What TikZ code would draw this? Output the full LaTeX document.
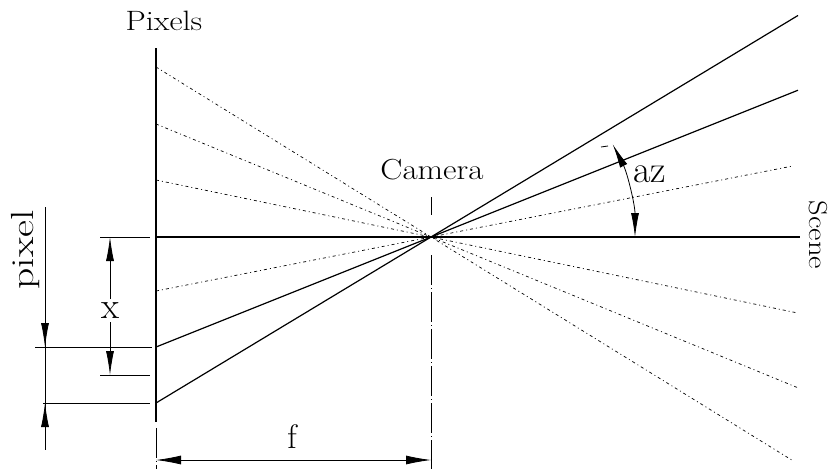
\documentclass[tikz,border=0pt]{standalone}
\usepackage{fontspec}
\usetikzlibrary{arrows.meta,calc}
\begin{document}
\begin{tikzpicture}[x=1pt,y=-1pt,
  ray/.style={line width=1.2pt},
  dray/.style={line width=0.7pt, dash pattern=on 3pt off 3pt on 1pt off 3pt},
  ext/.style={line width=1pt},
  dim/.style={line width=0.8pt},
  cline/.style={line width=0.9pt, dash pattern=on 30pt off 3pt on 1pt off 3pt},
  tip/.style={-{Latex[length=24pt,width=8pt]}},
  lbl/.style={inner sep=0pt}
]
\useasboundingbox (0,0) rectangle (830,469);
% key points
\coordinate (C) at (431,237);
\coordinate (planeT) at (156,48);
\coordinate (planeB) at (156,422);
\coordinate (d1) at (156,67);
\coordinate (d2) at (156,124);
\coordinate (d3) at (156,180);
\coordinate (d4) at (156,291);
\coordinate (s1) at (156,347);
\coordinate (s2) at (156,403);
\coordinate (axL) at (157,237);
\coordinate (axR) at (800,237);

% pixel plane
\draw[ray] (planeT) -- (planeB);
% optical axis
\draw[ray] (axL) -- (axR);
% dotted rays
\draw[dray] (d1) -- ($(d1)!2.3127!(C)$);
\draw[dray] (d2) -- ($(d2)!2.3345!(C)$);
\draw[dray] (d3) -- ($(d3)!2.3345!(C)$);
\draw[dray] (d4) -- ($(d4)!2.3127!(C)$);
% solid rays
\draw[ray] (s1) -- ($(s1)!2.3345!(C)$);
\draw[ray] (s2) -- ($(s2)!2.3345!(C)$);

% camera centre line
\coordinate (cT) at (431,197);
\coordinate (cT2) at (431,215);
\coordinate (cB1) at (431,255);
\coordinate (cB2) at (431,469);
\draw[ext] (cT) -- (cT2);
\draw[cline] (cB1) -- (cB2);
% left extension for f
\coordinate (fe1) at (156,428);
\coordinate (fe2) at (156,469);
\draw[cline] (fe1) -- (fe2);

% extension lines on the left
\coordinate (e0a) at (100,237); \coordinate (e0b) at (150,237);
\coordinate (e1a) at (35,347);  \coordinate (e1b) at (152,347);
\coordinate (e2a) at (100,375); \coordinate (e2b) at (150,375);
\coordinate (e3a) at (43,403);  \coordinate (e3b) at (150,403);
\draw[ext] (e0a) -- (e0b);
\draw[ext] (e1a) -- (e1b);
\draw[ext] (e2a) -- (e2b);
\draw[ext] (e3a) -- (e3b);

% x dimension
\coordinate (xm1) at (110,299);
\coordinate (xm2) at (110,322);
\coordinate (xt) at (110,237);
\coordinate (xb) at (110,375);
\draw[dim,tip] (xm1) -- (xt);
\draw[dim,tip] (xm2) -- (xb);
\node[lbl, font=\fontsize{37}{37}\selectfont, anchor=base] (xlab) at (110,318) {x};

% pixel dimension
\coordinate (pT) at (45,207);
\coordinate (pB) at (45,450);
\coordinate (pa) at (45,347);
\coordinate (pb) at (45,403);
\draw[dim] (pT) -- (pB);
\draw[dim,tip] (45,320) -- (pa);
\draw[dim,tip] (45,430) -- (pb);
\node[lbl, font=\fontsize{32}{32}\selectfont, rotate=90, anchor=base] (pixlab) at (34,250) {\scalebox{1.3}[1]{pixel}};

% f dimension
\coordinate (fL) at (156,460);
\coordinate (fR) at (431,460);
\draw[dim,{Latex[length=25pt,width=9pt]}-{Latex[length=25pt,width=9pt]}] (fL) -- (fR);
\node[lbl, font=\fontsize{34}{34}\selectfont, anchor=base] (flab) at (292,448) {f};

% az angle
\draw[dim,{Latex[length=24pt,width=8pt]}-{Latex[length=24pt,width=8pt]}] ($(C)+(204,0)$) arc[start angle=0, end angle=-27, radius=204];
\coordinate (tk1) at (601,147);
\coordinate (tk2) at (608,146);
\draw[dim] (tk1) -- (tk2);
\node[lbl, font=\fontsize{38}{38}\selectfont, anchor=base west] (azlab) at (633,182) {az};

% labels
\node[lbl, font=\fontsize{28}{28}\selectfont, anchor=base] (pixels) at (164,30) {\scalebox{1.15}[1]{Pixels}};
\node[lbl, font=\fontsize{29}{29}\selectfont, anchor=base] (camera) at (432,179) {\scalebox{1.14}[1]{Camera}};
\node[lbl, font=\fontsize{26}{26}\selectfont, rotate=-90, anchor=base] (scene) at (809,235) {\scalebox{1.17}[1]{Scene}};
\end{tikzpicture}
\end{document}
